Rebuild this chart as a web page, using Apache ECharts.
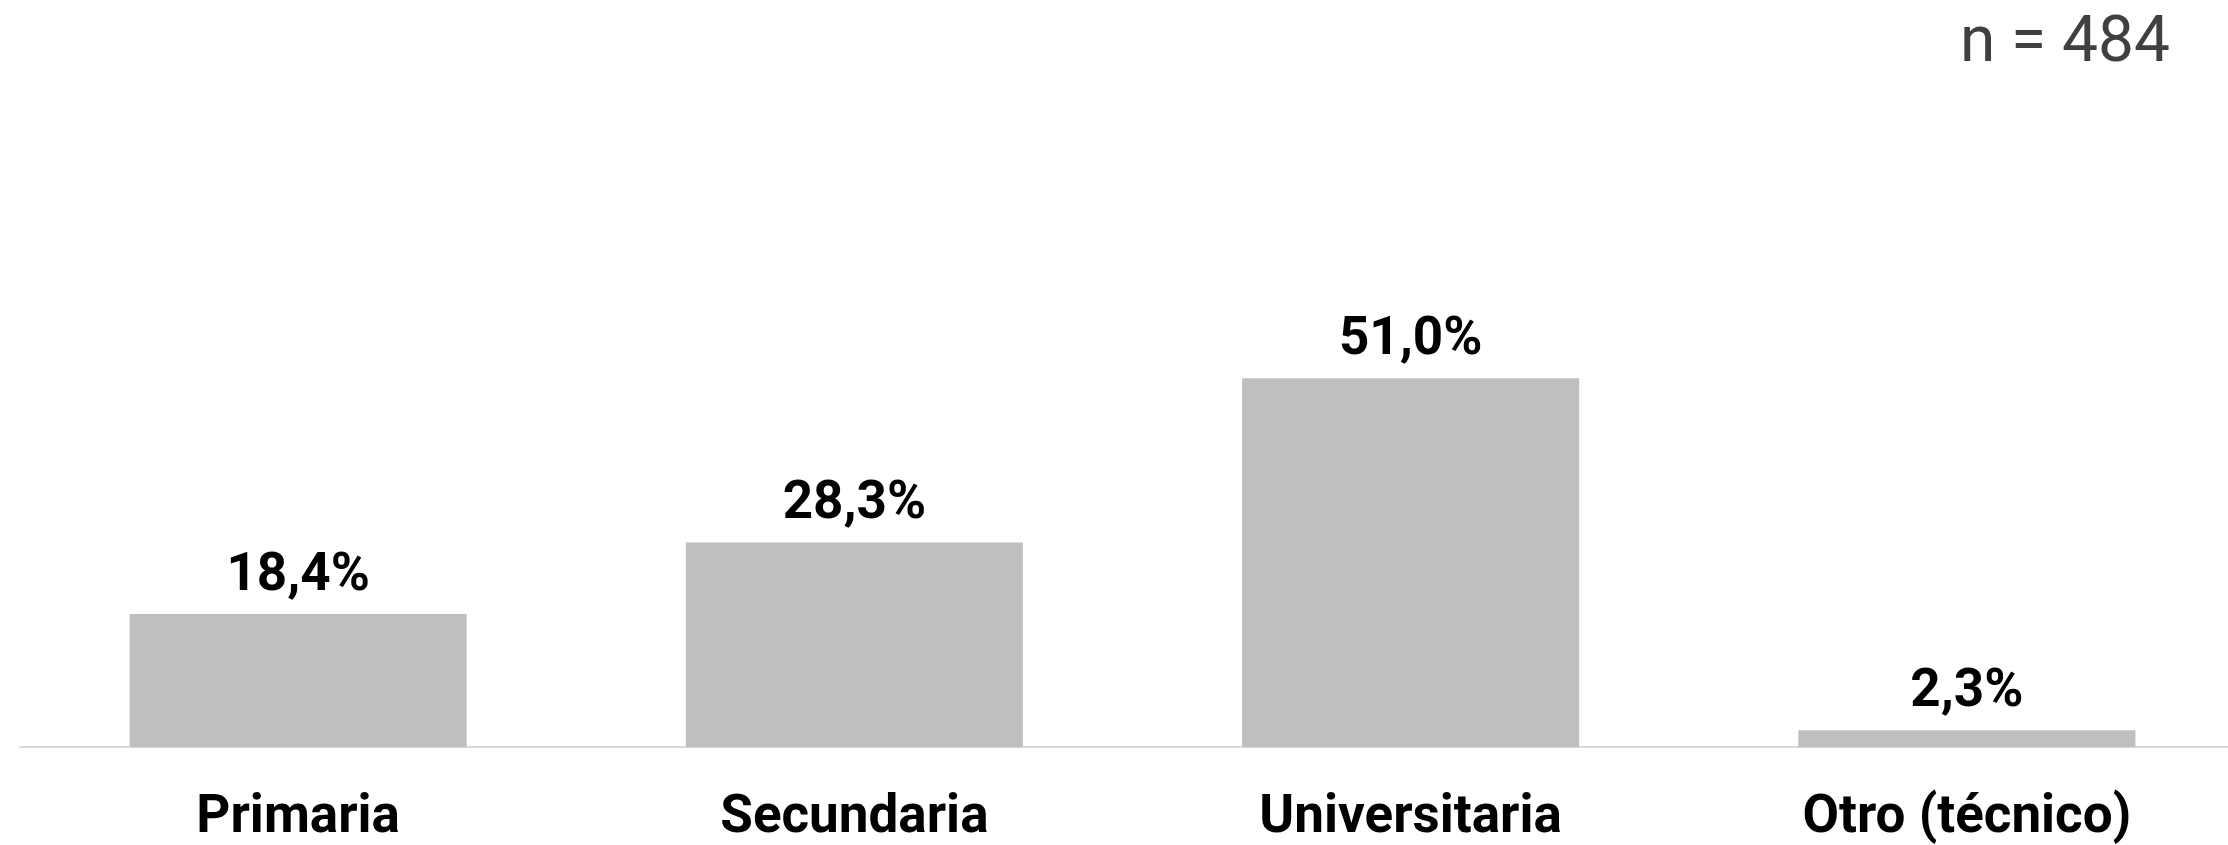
<!DOCTYPE html>
<html>
<head>
<meta charset="utf-8">
<script src="https://cdn.jsdelivr.net/npm/echarts@6/dist/echarts.min.js"></script>
<style>
  html, body { margin: 0; padding: 0; background: #fff; }
  #chart { width: 2228px; height: 845px; }
</style>
</head>
<body>
<div id="chart"></div>
<script>
// niveles educativos
const categorias = ["Primaria", "Secundaria", "Universitaria", "Otro (técnico)"];
const porcentajes = [18.4, 28.3, 51.0, 2.3];
const muestra = "n = 484";

let myChart = echarts.init(document.getElementById("chart"));
myChart.setOption({
    backgroundColor: "#fff",
    textStyle: { fontFamily: "Roboto" },
    title: {
        text: muestra,
        right: 53,
        top: 8,
        textStyle: {
            fontFamily: "Roboto",
            fontWeight: "normal",
            fontSize: 64,
            color: "#404040"
        }
    },
    grid: {
        left: 20,
        right: -17,
        top: 24,
        bottom: 98,
        outerBoundsMode: "none"
    },
    xAxis: {
        type: "category",
        data: categorias,
        axisLine: { lineStyle: { color: "#d9d9d9", width: 2 } },
        axisTick: { show: false },
        axisLabel: {
            margin: 45,
            fontSize: 53,
            fontWeight: "bold",
            color: "#000",
            fontFamily: "Roboto"
        }
    },
    yAxis: {
        type: "value",
        min: 0,
        max: 100,
        show: false
    },
    series: [
        {
            type: "bar",
            data: porcentajes,
            barWidth: "60.6%",
            itemStyle: { color: "#bfbfbf" },
            label: {
                show: true,
                position: "top",
                distance: 11,
                fontSize: 53,
                fontWeight: "bold",
                color: "#000",
                fontFamily: "Roboto",
                formatter: p => p.value.toFixed(1).replace(".", ",") + "%"
            }
        }
    ]
});
</script>
</body>
</html>
